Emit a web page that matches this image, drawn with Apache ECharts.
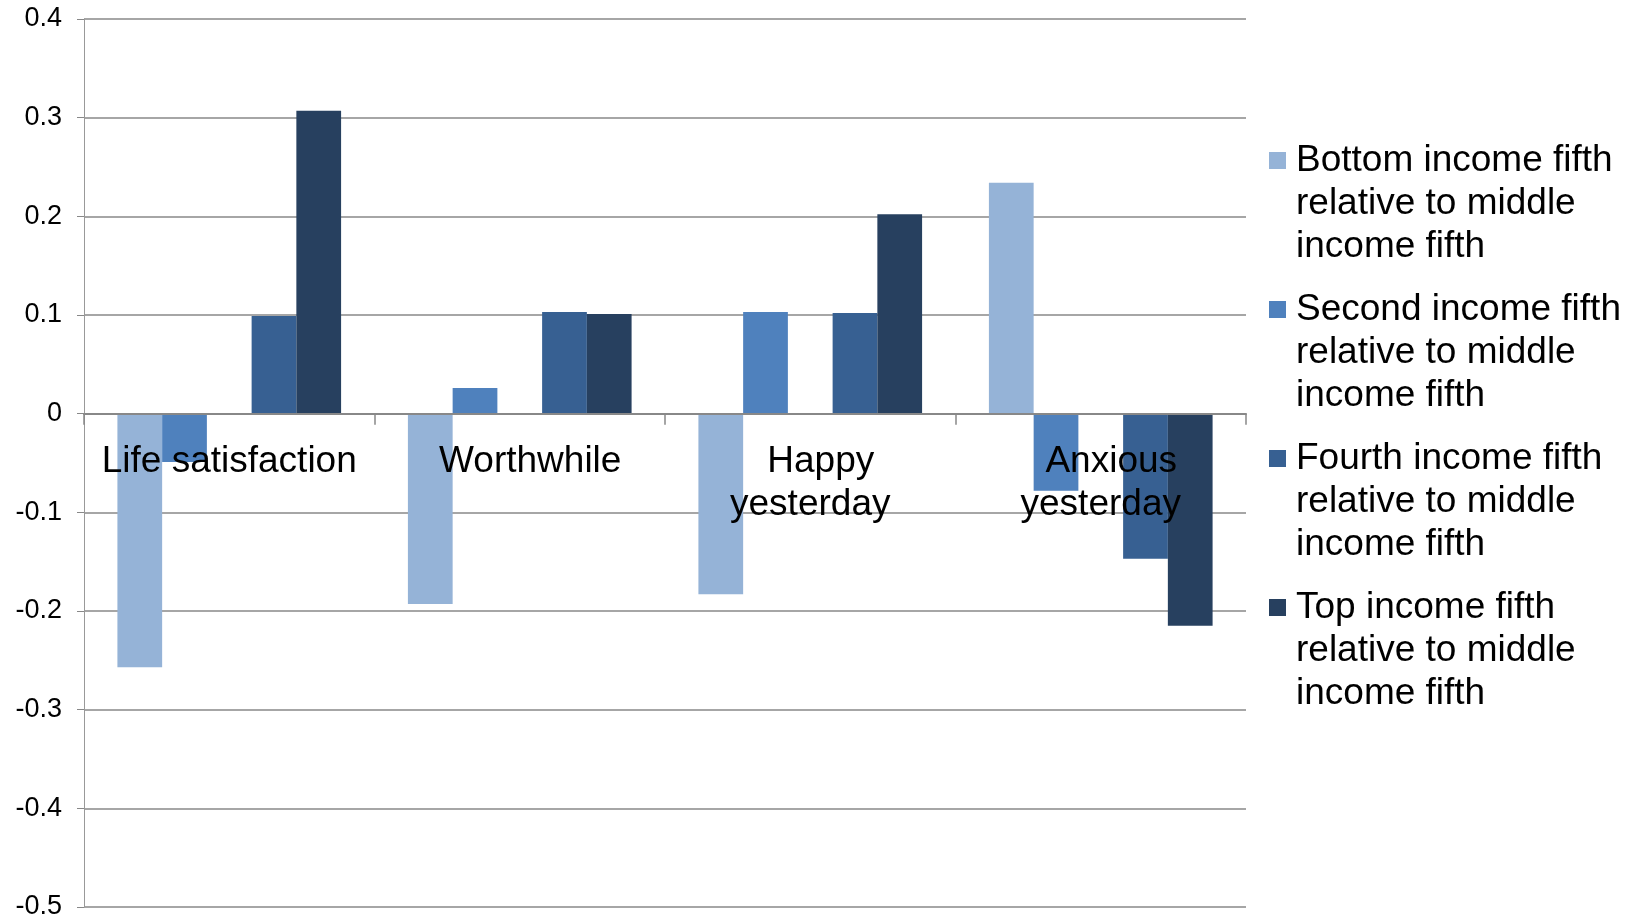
<!DOCTYPE html>
<html>
<head>
<meta charset="utf-8">
<script src="https://cdn.jsdelivr.net/npm/echarts@6/dist/echarts.min.js"></script>
<style>
html,body{margin:0;padding:0;background:#fff;}
#c{width:1639px;height:919px;}
</style>
</head>
<body>
<div id="c"></div>
<script>
const categories = ['Life satisfaction', 'Worthwhile', 'Happy\nyesterday', 'Anxious\nyesterday'];
const seriesNames = [
  'Bottom income fifth\nrelative to middle\nincome fifth',
  'Second income fifth\nrelative to middle\nincome fifth',
  'Middle income fifth',
  'Fourth income fifth\nrelative to middle\nincome fifth',
  'Top income fifth\nrelative to middle\nincome fifth'
];
const legendNames = [seriesNames[0], seriesNames[1], seriesNames[3], seriesNames[4]];
const bottomFifth = [-0.257, -0.193, -0.183, 0.234];
const secondFifth = [-0.049, 0.026, 0.103, -0.078];
const middleFifth = [0, 0, 0, 0];
const fourthFifth = [0.099, 0.103, 0.102, -0.147];
const topFifth = [0.307, 0.101, 0.202, -0.215];
const colors = ['#95B3D7', '#4F81BD', '#4572A7', '#376092', '#27405F'];
const yTicks = { min: -0.5, max: 0.4, interval: 0.1 };

const allData = [bottomFifth, secondFifth, middleFifth, fourthFifth, topFifth];
const font = '"Liberation Sans", Arial, sans-serif';
const legendIcon = 'path://M0,0L22,0 M0,13L17,13L17,30L0,30Z M0,129L22,129';
const labelText = { fontFamily: font, fontSize: 37, lineHeight: 43, color: '#000' };

const chart = echarts.init(document.getElementById('c'));
chart.setOption({
  animation: false,
  backgroundColor: '#ffffff',
  color: colors,
  grid: { left: 84, right: 393, top: 19, bottom: 12, containLabel: false, outerBoundsMode: 'none' },
  legend: {
    orient: 'vertical',
    left: 1264,
    top: 134,
    itemWidth: 22,
    itemHeight: 129,
    itemGap: 20,
    icon: legendIcon,
    selectedMode: false,
    textStyle: { fontFamily: font, fontSize: 37, lineHeight: 43, color: '#000' },
    data: legendNames
  },
  xAxis: {
    type: 'category',
    data: categories,
    z: 10,
    axisLine: { onZero: true, lineStyle: { color: '#888888', width: 2 } },
    axisTick: { show: true, length: 11, lineStyle: { color: '#888888', width: 1.5 } },
    axisLabel: {
      interval: 0, margin: -467, fontFamily: font, fontSize: 37, lineHeight: 43, color: '#000',
      formatter: (v, i) => i === 0 ? '{n|' + v + '}' :
        v.split('\n').map((l, k) => (k === 0 ? '{p|' : '{n|') + l + '}').join('\n'),
      rich: {
        n: Object.assign({}, labelText),
        p: Object.assign({ padding: [0, 0, 0, 21] }, labelText)
      }
    },
    splitLine: { show: false }
  },
  yAxis: {
    type: 'value',
    min: yTicks.min, max: yTicks.max, interval: yTicks.interval,
    axisLine: { show: true, lineStyle: { color: '#999999', width: 1 } },
    axisTick: { show: true, length: 7, lineStyle: { color: '#888888' } },
    axisLabel: {
      margin: 22, fontFamily: font, fontSize: 27, color: '#000',
      formatter: v => String(parseFloat(v.toFixed(1)))
    },
    splitLine: { show: true, lineStyle: { color: '#888888', width: 1.5 } }
  },
  series: seriesNames.map((name, i) => ({
    name: name,
    type: 'bar',
    data: allData[i],
    barGap: '0%',
    barCategoryGap: '23%',
    itemStyle: { color: colors[i] }
  }))
});
</script>
</body>
</html>
